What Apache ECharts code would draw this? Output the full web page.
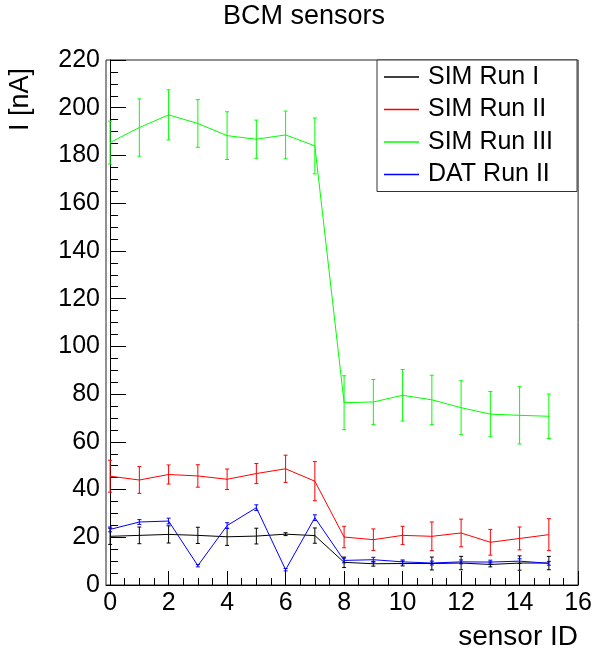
<!DOCTYPE html>
<html>
<head>
<meta charset="utf-8">
<script src="https://cdn.jsdelivr.net/npm/echarts@6/dist/echarts.min.js"></script>
<style>
  html, body { margin: 0; padding: 0; background: #fff; }
  #chart { width: 595px; height: 655px; }
</style>
</head>
<body>
<div id="chart"></div>
<script>
// BCM sensor currents per sensor for three simulated runs and run II data
const sensorIds = [0, 1, 2, 3, 4, 5, 6, 7, 8, 9, 10, 11, 12, 13, 14, 15];

const simRun1    = [20.4, 20.8, 21.2, 20.8, 20.2, 20.5, 21.3, 20.7, 9.5, 8.9, 9.0, 9.0, 9.2, 8.6, 9.2, 9.2];
const simRun1Err = [3.4, 3.5, 3.6, 3.4, 3.6, 3.3, 0.6, 3.2, 2.2, 1.0, 1.0, 2.7, 2.8, 1.0, 3.0, 2.8];

const simRun2    = [45.6, 44.0, 46.3, 45.7, 44.3, 46.7, 48.7, 43.5, 20.1, 19.0, 20.8, 20.4, 21.8, 17.9, 19.5, 21.1];
const simRun2Err = [6.7, 5.6, 4.0, 4.7, 4.3, 4.2, 5.7, 8.2, 4.5, 4.5, 3.8, 6.0, 5.8, 5.4, 4.8, 6.7];

const simRun3    = [185.4, 191.7, 197.0, 193.4, 188.3, 186.8, 188.6, 184.0, 76.4, 76.7, 79.5, 77.6, 74.3, 71.6, 71.1, 70.7];
const simRun3Err = [9.0, 12.0, 10.5, 10.0, 10.0, 8.0, 10.0, 11.7, 11.3, 9.4, 10.8, 10.3, 11.3, 9.5, 12.0, 9.3];

const datRun2    = [23.3, 26.4, 26.8, 8.1, 24.9, 32.4, 6.4, 28.2, 10.3, 10.6, 9.7, 9.2, 9.7, 9.6, 10.0, 9.1];
const datRun2Err = [1.0, 1.0, 1.2, 0.5, 1.2, 1.2, 0.5, 1.2, 1.0, 1.0, 0.8, 0.8, 0.8, 0.8, 1.0, 0.8];

const seriesNames = ['SIM Run I', 'SIM Run II', 'SIM Run III', 'DAT Run II'];
const seriesColors = ['#000000', '#ff0000', '#00ff00', '#0000ff'];

const xMajorTicks = [0, 2, 4, 6, 8, 10, 12, 14, 16];
const xMinorTicks = [];
for (let v = 0; v <= 16; v += 0.5) xMinorTicks.push(v);

const FONT = '"Liberation Sans", Arial, Helvetica, sans-serif';

function lineSeries(name, values, color) {
  return {
    type: 'line',
    name: name,
    data: values.map((v, i) => [sensorIds[i], v]),
    symbol: 'none',
    color: color,
    lineStyle: { color: color, width: 1 },
    itemStyle: { color: color },
    animation: false,
    silent: true
  };
}

// vertical error bar with short end caps at every sensor
function errorSeries(name, values, errors, color) {
  return {
    type: 'custom',
    name: name + ' err',
    data: values.map((v, i) => [sensorIds[i], v - errors[i], v + errors[i]]),
    encode: { x: 0, y: [1, 2] },
    silent: true,
    animation: false,
    renderItem: function (params, api) {
      const x = api.value(0);
      const lo = api.coord([x, api.value(1)]);
      const hi = api.coord([x, api.value(2)]);
      const cap = 2;
      const style = { stroke: color, lineWidth: 1 };
      return {
        type: 'group',
        children: [
          { type: 'line', shape: { x1: lo[0], y1: lo[1], x2: hi[0], y2: hi[1] }, style: style },
          { type: 'line', shape: { x1: lo[0] - cap, y1: lo[1], x2: lo[0] + cap, y2: lo[1] }, style: style },
          { type: 'line', shape: { x1: hi[0] - cap, y1: hi[1], x2: hi[0] + cap, y2: hi[1] }, style: style }
        ]
      };
    }
  };
}

const allValues = [simRun1, simRun2, simRun3, datRun2];
const allErrors = [simRun1Err, simRun2Err, simRun3Err, datRun2Err];

const series = [];
seriesNames.forEach((name, k) => {
  series.push(lineSeries(name, allValues[k], seriesColors[k]));
  series.push(errorSeries(name, allValues[k], allErrors[k], seriesColors[k]));
});

const chart = echarts.init(document.getElementById('chart'), null, { renderer: 'canvas' });

chart.setOption({
  animation: false,
  backgroundColor: '#ffffff',
  title: {
    text: 'BCM sensors',
    left: 223,
    top: 3,
    padding: 0,
    textStyle: { fontFamily: FONT, fontSize: 27, fontWeight: 'normal', color: '#000' }
  },
  grid: {
    left: 106, right: 15, top: 60, bottom: 70,
    show: true, borderColor: '#222', borderWidth: 1, backgroundColor: 'transparent'
  },
  legend: {
    data: seriesNames,
    orient: 'vertical',
    left: 377,
    top: 60,
    backgroundColor: '#ffffff',
    borderColor: '#333',
    borderWidth: 1,
    padding: [2, 24, 2, 7],
    itemGap: 2.5,
    itemWidth: 35,
    itemHeight: 1.5,
    icon: 'rect',
    selectedMode: false,
    textStyle: { fontFamily: FONT, fontSize: 25, color: '#000', lineHeight: 30, padding: [0, 0, 0, 4] }
  },
  xAxis: [
    {
      type: 'value',
      min: -0.14,
      max: 16,
      position: 'bottom',
      axisLine: { show: true, lineStyle: { color: '#000', width: 1 } },
      axisTick: { show: true, inside: true, length: 14, customValues: xMajorTicks, lineStyle: { color: '#000' } },
      axisLabel: { customValues: xMajorTicks, fontFamily: FONT, fontSize: 25, color: '#000', margin: 6 },
      splitLine: { show: false }
    },
    {
      type: 'value',
      min: -0.14,
      max: 16,
      position: 'bottom',
      axisLine: { show: false },
      axisTick: { show: true, inside: true, length: 7, customValues: xMinorTicks, lineStyle: { color: '#000' } },
      axisLabel: { show: false },
      splitLine: { show: false }
    }
  ],
  yAxis: {
    type: 'value',
    min: 0,
    max: 220,
    interval: 20,
    axisLine: { show: true, lineStyle: { color: '#000', width: 1 } },
    axisTick: { show: true, inside: true, length: 16, lineStyle: { color: '#000' } },
    minorTick: { show: true, splitNumber: 4, length: 8, lineStyle: { color: '#000' } },
    axisLabel: { fontFamily: FONT, fontSize: 25, color: '#000', margin: 6 },
    splitLine: { show: false }
  },
  graphic: [
    {
      type: 'text',
      x: 21, y: 68,
      rotation: Math.PI / 2,
      style: { text: 'I [nA]', fontFamily: FONT, fontSize: 27, fill: '#000', align: 'right', verticalAlign: 'middle' }
    },
    {
      type: 'text',
      x: 578, y: 637,
      style: { text: 'sensor ID', fontFamily: FONT, fontSize: 28, fill: '#000', align: 'right', verticalAlign: 'middle' }
    }
  ],
  series: series
});
</script>
</body>
</html>
